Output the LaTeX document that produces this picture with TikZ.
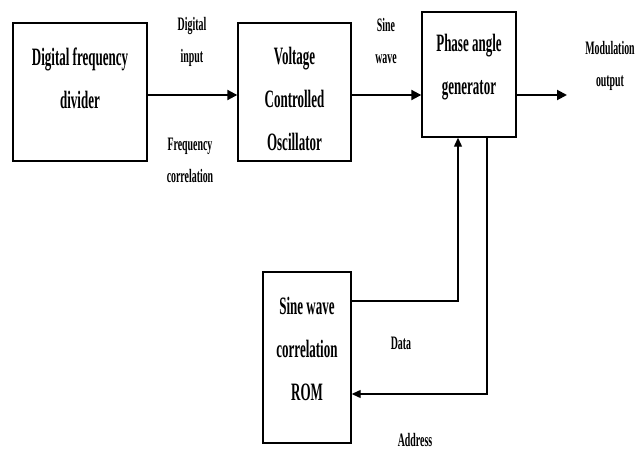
\documentclass[tikz,border=0pt]{standalone}
\usepackage{fontspec}
\setmainfont{Liberation Serif}[FakeStretch=0.52]
\usetikzlibrary{arrows.meta}

\begin{document}
\begin{tikzpicture}[x=1pt,y=-1pt,
  block/.style={draw, line width=1.4pt, inner sep=0pt},
  btxt/.style={align=center, inner sep=0pt, font=\fontsize{25}{43}\selectfont\bfseries},
  lbl/.style={align=center, inner sep=0pt, font=\fontsize{19}{32}\selectfont\bfseries},
  sig/.style={line width=2pt, -{Triangle[length=10pt,width=10pt]}},
  fb/.style={line width=1.2pt, -{Triangle[length=9pt,width=8pt]}}]
\useasboundingbox (0,0) rectangle (635,452);
% blocks
\node[block, minimum width=134, minimum height=138] (div) at (80,92) {};
\node[block, minimum width=113, minimum height=138] (vco) at (294.5,92) {};
\node[block, minimum width=94, minimum height=125] (pag) at (469,74.5) {};
\node[block, minimum width=88, minimum height=171] (rom) at (307,357.5) {};
\node[btxt] (divt) at (80,78.5) {Digital frequency\\divider};
\node[btxt] (vcot) at (294.5,98.5) {Voltage\\Controlled\\Oscillator};
\node[btxt] (pagt) at (469,67.5) {Phase angle\\generator};
\node[btxt] (romt) at (307,349) {Sine wave\\correlation\\ROM};
\coordinate (out) at (567,95);
\coordinate (dturn) at (458,301);
\coordinate (aturn) at (487,394);
% signal path
\draw[sig] (div.east |- out) -- (vco.west |- out);
\draw[sig] (vco.east |- out) -- (pag.west |- out);
\draw[sig] (pag.east |- out) -- (out);
\draw[fb] (rom.east |- dturn) -- (dturn) -- (dturn |- pag.south);
\draw[fb] (aturn |- pag.south) -- (aturn) -- (aturn -| rom.east);
% labels
\node[lbl] (din) at (192,41.5) {Digital\\input};
\node[lbl] (fcor) at (190,160) {Frequency\\correlation};
\node[lbl] (sw) at (386,41.5) {Sine\\wave};
\node[lbl] (mout) at (610,66) {Modulation\\output};
\node[lbl] (data) at (401,343) {Data};
\node[lbl] (addr) at (415,440) {Address};
\end{tikzpicture}
\end{document}
